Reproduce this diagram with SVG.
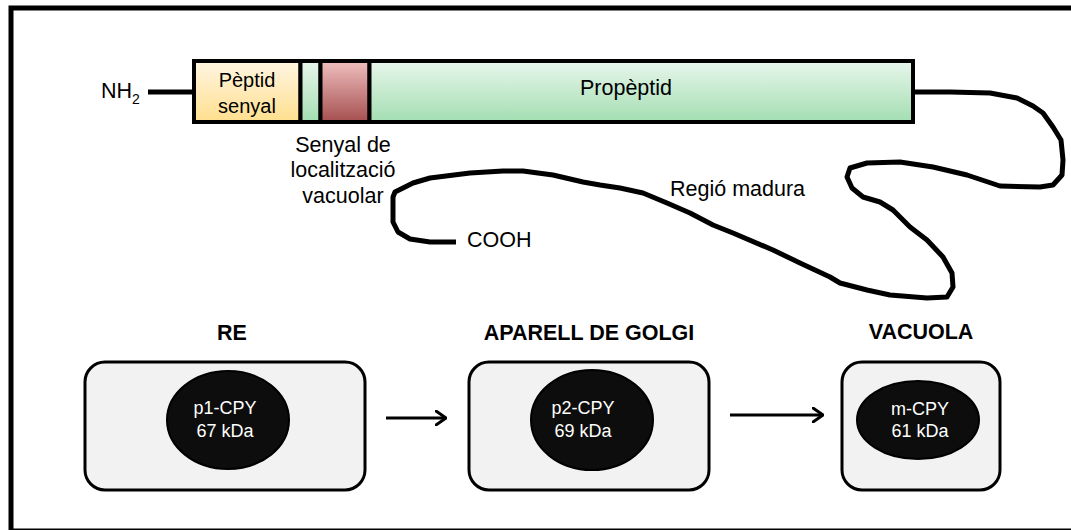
<svg xmlns="http://www.w3.org/2000/svg" width="1071" height="530" viewBox="0 0 1071 530">
<defs>
<linearGradient id="gY" x1="0" y1="0" x2="0" y2="1"><stop offset="0" stop-color="#fff5e2"/><stop offset="1" stop-color="#ffdf8e"/></linearGradient>
<linearGradient id="gG" x1="0" y1="0" x2="0" y2="1"><stop offset="0" stop-color="#e8f6ec"/><stop offset="1" stop-color="#a3deb1"/></linearGradient>
<linearGradient id="gR" x1="0" y1="0" x2="0" y2="1"><stop offset="0" stop-color="#f0bfbf"/><stop offset="1" stop-color="#a54f4f"/></linearGradient>
<marker id="arr" viewBox="0 0 12 16" refX="11" refY="8" markerWidth="12" markerHeight="16" markerUnits="userSpaceOnUse" orient="auto"><path d="M1,1 L11,8 L1,15" fill="none" stroke="#000" stroke-width="3" stroke-linecap="round" stroke-linejoin="round"/></marker>
<style>
text{font-family:"Liberation Sans",Arial,sans-serif;fill:#000}
.lbl{font-size:21.5px}
.ttl{font-size:21.5px;font-weight:bold;text-anchor:middle}
.sm{font-size:20px;text-anchor:middle}
.cpy{font-size:18px;fill:#fff;text-anchor:middle}
.box{fill:#f2f2f2;stroke:#000;stroke-width:3}
.ell{fill:#0d0d0d;stroke:#000;stroke-width:2}
.sec{stroke:#000;stroke-width:4}
.chain{fill:none;stroke:#000;stroke-width:5;stroke-linejoin:round;stroke-linecap:butt}
.conn{fill:none;stroke:#000;stroke-width:3}
</style>
</defs>
<rect x="11" y="8" width="1080" height="523" fill="#fff" stroke="#000" stroke-width="5"/>
<g id="protein">
<line x1="148" y1="92" x2="194" y2="92" stroke="#000" stroke-width="5"/>
<text class="lbl" x="101" y="98">NH<tspan font-size="14" dy="6">2</tspan></text>
<rect class="sec" x="194" y="61" width="106.5" height="61" fill="url(#gY)"/>
<rect class="sec" x="300.5" y="61" width="20" height="61" fill="url(#gG)"/>
<rect class="sec" x="320.5" y="61" width="49" height="61" fill="url(#gR)"/>
<rect class="sec" x="369.5" y="61" width="543.5" height="61" fill="url(#gG)"/>
<text class="sm" x="247" y="87">Pèptid</text>
<text class="sm" x="247" y="113">senyal</text>
<text class="lbl" x="626" y="95" text-anchor="middle">Propèptid</text>
<path class="chain" d="M913,92 L950,92 L990,93 L1017,98 L1033,106 L1043,113 L1053,127 L1061,140 L1063,160 L1062,175 L1053,185 L1040,187 L1000,186 L967,175 L933,167 L900,162 L867,163 L850,168 L847,177 L852,188 L863,197 L880,202 L893,210 L910,227 L927,240 L943,257 L952,273 L953,287 L947,297 L927,298 L890,295 L867,290 L840,283 L830,277 L800,263 L773,250 L733,233 L713,225 L690,213 L667,203 L643,193 L620,188 L600,185 L583,182 L553,175 L523,171 L503,171 L470,173 L430,178 L413,183 L395,192 L393,197 L393,222 L398,232 L410,239 L430,242 L456,242"/>
<text class="lbl" x="343" y="152" text-anchor="middle">Senyal de</text>
<text class="lbl" x="343" y="177" text-anchor="middle">localització</text>
<text class="lbl" x="343" y="203" text-anchor="middle">vacuolar</text>
<text class="lbl" x="467" y="247">COOH</text>
<text class="lbl" x="670" y="196">Regió madura</text>
</g>
<g id="re">
<text class="ttl" x="232" y="340">RE</text>
<rect class="box" x="85" y="362" width="280" height="128" rx="20"/>
<ellipse class="ell" cx="228" cy="420" rx="61" ry="49"/>
<text class="cpy" x="225" y="414">p1-CPY</text>
<text class="cpy" x="225" y="437">67 kDa</text>
</g>
<g id="golgi">
<text class="ttl" x="589" y="340">APARELL DE GOLGI</text>
<rect class="box" x="469" y="362" width="240" height="128" rx="20"/>
<ellipse class="ell" cx="592" cy="420" rx="61" ry="50"/>
<text class="cpy" x="583" y="414">p2-CPY</text>
<text class="cpy" x="583" y="437">69 kDa</text>
</g>
<g id="vacuola">
<text class="ttl" x="921" y="339">VACUOLA</text>
<rect class="box" x="842" y="362" width="158" height="128" rx="20"/>
<ellipse class="ell" cx="918" cy="420" rx="61" ry="39"/>
<text class="cpy" x="920" y="415">m-CPY</text>
<text class="cpy" x="920" y="437">61 kDa</text>
</g>
<g id="connectors">
<line class="conn" x1="386" y1="418" x2="446" y2="418" marker-end="url(#arr)"/>
<line class="conn" x1="730" y1="415" x2="823" y2="415" marker-end="url(#arr)"/>
</g>
</svg>
